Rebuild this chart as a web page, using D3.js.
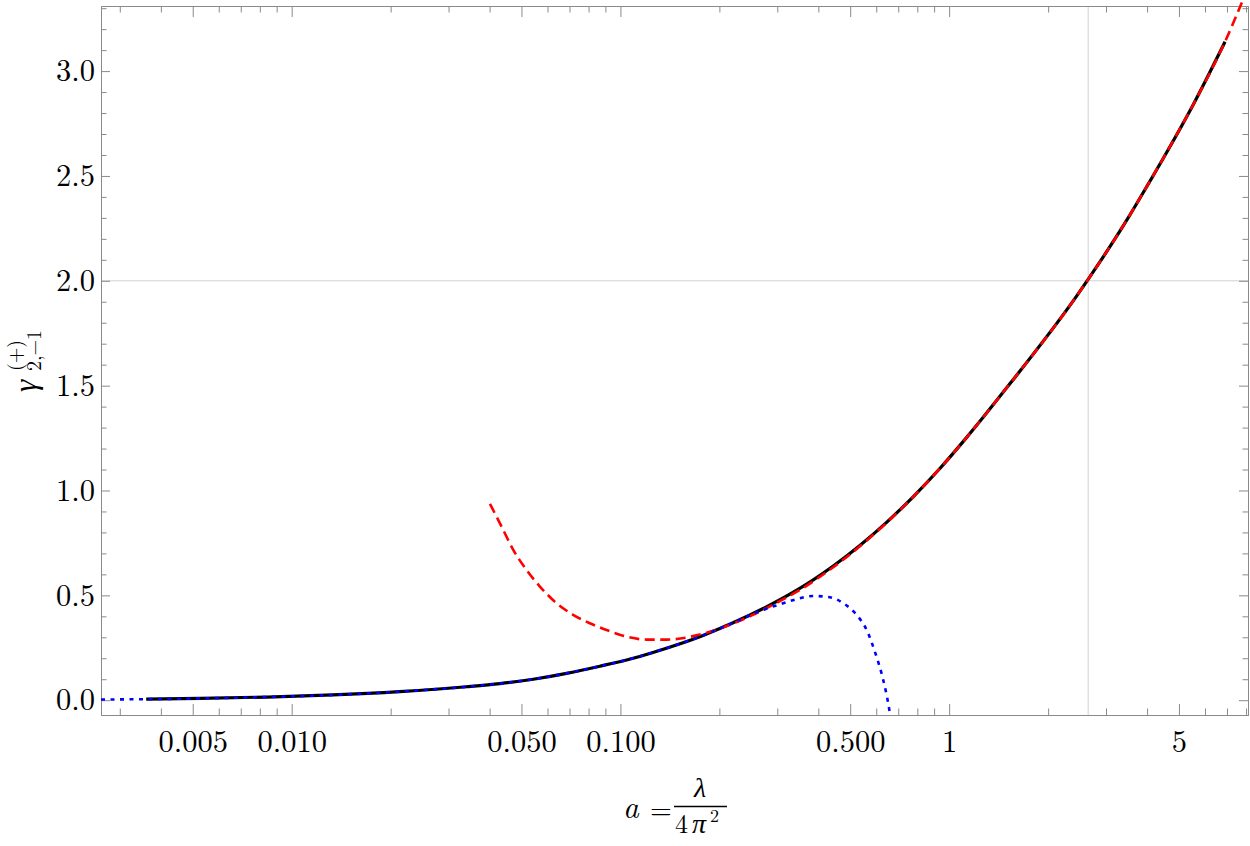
<!DOCTYPE html>
<html>
<head>
<meta charset="utf-8">
<script src="https://cdn.jsdelivr.net/npm/d3@7"></script>
<style>
  html, body { margin: 0; padding: 0; background: #fff; }
  svg { display: block; }
</style>
</head>
<body>
<svg id="chart" width="1250" height="846"></svg>
<script>
// ---------- data ----------
const exactSeries = [
  [0.00361, 0.005], [0.00525, 0.0085], [0.00838, 0.015], [0.01336, 0.025],
  [0.0213, 0.041], [0.034, 0.064], [0.043, 0.079], [0.0543, 0.100],
  [0.0686, 0.128], [0.0866, 0.162], [0.1093, 0.200], [0.138, 0.248],
  [0.1744, 0.303], [0.2006, 0.342], [0.220, 0.369], [0.278, 0.445],
  [0.351, 0.533], [0.386, 0.574], [0.444, 0.640], [0.535, 0.738],
  [0.645, 0.848], [0.777, 0.970], [0.937, 1.105], [1.129, 1.252],
  [1.269, 1.349], [1.427, 1.449], [2.441, 1.927], [2.874, 2.090],
  [3.465, 2.288], [3.986, 2.448], [4.586, 2.612], [5.525, 2.840],
  [6.905, 3.140]
];
const strongSeries = [
  [0.0401, 0.936], [0.0435, 0.828], [0.0472, 0.717], [0.0518, 0.621],
  [0.0569, 0.542], [0.0639, 0.463], [0.0718, 0.407], [0.0807, 0.367],
  [0.0907, 0.335], [0.1044, 0.303], [0.120, 0.289], [0.138, 0.289],
  [0.1744, 0.313], [0.2006, 0.342], [0.25, 0.403], [0.30, 0.466],
  [0.351, 0.525], [0.444, 0.634], [0.535, 0.734], [0.645, 0.846],
  [0.777, 0.970], [0.937, 1.105], [1.129, 1.252], [1.269, 1.349],
  [1.427, 1.449], [2.441, 1.927], [2.874, 2.090], [3.465, 2.288],
  [3.986, 2.448], [4.586, 2.612], [5.525, 2.840], [6.905, 3.140],
  [7.83, 3.34]
];
const weakSeries = [
  [0.00263, 0.003], [0.00361, 0.005], [0.00525, 0.0085], [0.00838, 0.015],
  [0.01336, 0.025], [0.0213, 0.041], [0.034, 0.064], [0.043, 0.079],
  [0.0543, 0.100], [0.0686, 0.128], [0.0866, 0.162], [0.1093, 0.200],
  [0.138, 0.248], [0.1744, 0.303], [0.2006, 0.342], [0.220, 0.369],
  [0.2655, 0.425], [0.3126, 0.462], [0.351, 0.486], [0.386, 0.497],
  [0.4335, 0.491], [0.476, 0.463], [0.523, 0.407], [0.561, 0.335],
  [0.601, 0.208], [0.6225, 0.129], [0.630, 0.097], [0.660, -0.062],
  [0.668, -0.12]
];
const xMajorTicks = [0.005, 0.01, 0.05, 0.1, 0.5, 1, 5];
const xTickLabels = ["0.005", "0.010", "0.050", "0.100", "0.500", "1", "5"];
const xMinorTicks = [0.003, 0.004, 0.006, 0.007, 0.008, 0.009,
  0.02, 0.03, 0.04, 0.06, 0.07, 0.08, 0.09,
  0.2, 0.3, 0.4, 0.6, 0.7, 0.8, 0.9,
  2, 3, 4, 6, 7, 8];
const yMajorTicks = [0, 0.5, 1, 1.5, 2, 2.5, 3];
const yTickLabels = ["0.0", "0.5", "1.0", "1.5", "2.0", "2.5", "3.0"];
const yMinorTicks = [0.1, 0.2, 0.3, 0.4, 0.6, 0.7, 0.8, 0.9, 1.1, 1.2, 1.3, 1.4,
  1.6, 1.7, 1.8, 1.9, 2.1, 2.2, 2.3, 2.4, 2.6, 2.7, 2.8, 2.9, 3.1, 3.2, 3.3];
const gridX = [2.648];
const gridY = [2.0];

// ---------- layout ----------
const L = 101, R = 1248, T = 6, B = 715;
const x = d3.scaleLog().domain([0.002630, 8.11]).range([L, R]);
const y = d3.scaleLinear().domain([-0.0706, 3.3104]).range([B, T]);

const svg = d3.select("#chart");
svg.append("rect").attr("width", 1250).attr("height", 846).attr("fill", "#fff");

const frameColor = "#8a8a8a";
const gridColor = "#d2d2d2";
const FONT = "Latin Modern Roman";

// grid lines
svg.append("g").selectAll("line").data(gridX).join("line")
  .attr("x1", d => x(d)).attr("x2", d => x(d)).attr("y1", T).attr("y2", B)
  .attr("stroke", gridColor).attr("stroke-width", 1);
svg.append("g").selectAll("line").data(gridY).join("line")
  .attr("x1", L).attr("x2", R).attr("y1", d => y(d)).attr("y2", d => y(d))
  .attr("stroke", gridColor).attr("stroke-width", 1);

function styleAxis(g) {
  g.attr("font-family", FONT).attr("font-size", 30.5);
  g.select(".domain").attr("stroke", frameColor).attr("stroke-width", 1);
  g.selectAll(".tick line").attr("stroke", frameColor).attr("stroke-width", 1);
  g.selectAll(".tick text").attr("fill", "#000").attr("font-family", FONT).style("font-family", FONT);
}

// bottom
svg.append("g").attr("transform", `translate(0,${B})`)
  .call(d3.axisBottom(x).tickValues(xMajorTicks).tickSize(-11).tickSizeOuter(0)
    .tickFormat((d, i) => xTickLabels[i]).tickPadding(15))
  .call(styleAxis);
svg.append("g").attr("transform", `translate(0,${B})`)
  .call(d3.axisBottom(x).tickValues(xMinorTicks).tickSize(-6.5).tickSizeOuter(0).tickFormat(""))
  .call(styleAxis);
// top
svg.append("g").attr("transform", `translate(0,${T})`)
  .call(d3.axisTop(x).tickValues(xMajorTicks).tickSize(-11).tickSizeOuter(0).tickFormat(""))
  .call(styleAxis);
svg.append("g").attr("transform", `translate(0,${T})`)
  .call(d3.axisTop(x).tickValues(xMinorTicks).tickSize(-6.5).tickSizeOuter(0).tickFormat(""))
  .call(styleAxis);
// left
svg.append("g").attr("transform", `translate(${L},0)`)
  .call(d3.axisLeft(y).tickValues(yMajorTicks).tickSize(-9).tickSizeOuter(0)
    .tickFormat((d, i) => yTickLabels[i]).tickPadding(6))
  .call(styleAxis);
svg.append("g").attr("transform", `translate(${L},0)`)
  .call(d3.axisLeft(y).tickValues(yMinorTicks).tickSize(-5.5).tickSizeOuter(0).tickFormat(""))
  .call(styleAxis);
// right
svg.append("g").attr("transform", `translate(${R},0)`)
  .call(d3.axisRight(y).tickValues(yMajorTicks).tickSize(-9).tickSizeOuter(0).tickFormat(""))
  .call(styleAxis);
svg.append("g").attr("transform", `translate(${R},0)`)
  .call(d3.axisRight(y).tickValues(yMinorTicks).tickSize(-5.5).tickSizeOuter(0).tickFormat(""))
  .call(styleAxis);

// clip
svg.append("clipPath").attr("id", "clip").append("rect")
  .attr("x", L).attr("y", 0).attr("width", R - L + 2).attr("height", B);

const line = d3.line().x(d => x(d[0])).y(d => y(d[1])).curve(d3.curveMonotoneX);
const curves = svg.append("g").attr("clip-path", "url(#clip)");

curves.append("path").datum(exactSeries).attr("d", line)
  .attr("fill", "none").attr("stroke", "#000").attr("stroke-width", 3.2)
  .attr("stroke-linejoin", "round");
curves.append("path").datum(strongSeries).attr("d", line)
  .attr("fill", "none").attr("stroke", "#ff0000").attr("stroke-width", 2.6)
  .attr("stroke-dasharray", "10,5.5");
curves.append("path").datum(weakSeries).attr("d", line)
  .attr("fill", "none").attr("stroke", "#0000ff").attr("stroke-width", 2.6)
  .attr("stroke-dasharray", "4,5.5");

function tx(g, px, py, size, str, italic, anchor) {
  const t = g.append("text").attr("x", px).attr("y", py)
    .attr("font-family", FONT).style("font-family", FONT)
    .style("font-size", size + "px").attr("fill", "#000").text(str);
  if (italic) t.style("font-style", "italic");
  if (anchor) t.attr("text-anchor", anchor);
  return t;
}

// x-axis title: a = λ / (4 π²)
const xt = svg.append("g");
tx(xt, 623, 818, 31, "a", true);
tx(xt, 650, 818.5, 28, "=", false);
xt.append("line").attr("x1", 674).attr("x2", 727).attr("y1", 806.5).attr("y2", 806.5)
  .attr("stroke", "#000").attr("stroke-width", 1.3);
tx(xt, 700, 797, 28, "λ", true, "middle");
tx(xt, 675, 833, 26, "4", false);
tx(xt, 692, 833, 28, "π", true);
tx(xt, 710, 822, 18, "2", false);

// y-axis title: γ^{(+)}_{2,−1}, rotated
const yt = svg.append("g").attr("transform", "translate(36,392) rotate(-90)");
tx(yt, 0, 0, 31, "γ", true);
tx(yt, 21, -14, 20, "(+)", false);
tx(yt, 21, 5, 20, "2,−1", false);
</script>
</body>
</html>
